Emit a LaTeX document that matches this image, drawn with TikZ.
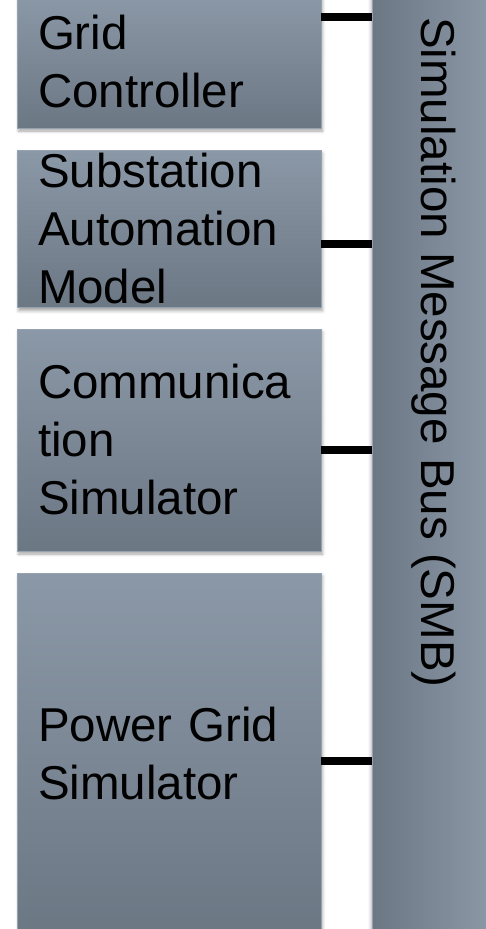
\documentclass[tikz,border=0pt]{standalone}
\usepackage{fontspec}
\setmainfont{Liberation Sans}
\usepackage{tikz}
\usetikzlibrary{shadows.blur}
\definecolor{boxtop}{RGB}{139,152,167}
\definecolor{boxbot}{RGB}{108,119,132}
\definecolor{boxedge}{RGB}{150,162,176}
\tikzstyle{module} = [rectangle, minimum width=304pt, text width=262pt, inner xsep=21pt, align=left, top color=boxtop, bottom color=boxbot, draw=boxedge, line width=0.8pt, font=\fontsize{47.5}{58}\selectfont, blur shadow={shadow xshift=1.5pt, shadow yshift=-3pt, shadow blur radius=3pt, shadow opacity=35}]
\tikzstyle{bus} = [rectangle, minimum width=120pt, minimum height=940pt, left color=boxbot, right color=boxtop, draw=boxedge, line width=0.8pt, blur shadow={shadow xshift=-1pt, shadow yshift=0pt, shadow blur radius=3pt, shadow opacity=30}]
\tikzstyle{buslabel} = [inner sep=0pt, font=\fontsize{47.5}{58}\selectfont]
\tikzstyle{link} = [line width=8.5pt]

\begin{document}
\begin{tikzpicture}[x=1pt, y=1pt]
            \clip (0,0) rectangle (486,-929);
            \node [module, minimum height=133pt] at (169,-61.5) (ctrl) {Grid\\Controller};
            \node [module, minimum height=156pt] at (169,-229) (sas) {Substation\\Automation\\Model};
            \node [module, minimum height=222pt] at (169,-440) (comm) {Communica\\tion\\Simulator};
            \node [module, minimum height=361pt] at (169,-753.5) (pgs) {Power Grid\\Simulator};
            \node [bus] at (432,-465) (smb) {};
            \node [buslabel, rotate=-90, anchor=base west] at (421,-17) (smblabel) {Simulation Message Bus (SMB)};

            \draw [link] ([yshift=44.5pt]ctrl.east) coordinate (c1) -- (c1 -| smb.west);
            \draw [link] ([yshift=-15pt]sas.east) coordinate (c2) -- (c2 -| smb.west);
            \draw [link] ([yshift=-10pt]comm.east) coordinate (c3) -- (c3 -| smb.west);
            \draw [link] ([yshift=-7.5pt]pgs.east) coordinate (c4) -- (c4 -| smb.west);
            \end{tikzpicture}
\end{document}
